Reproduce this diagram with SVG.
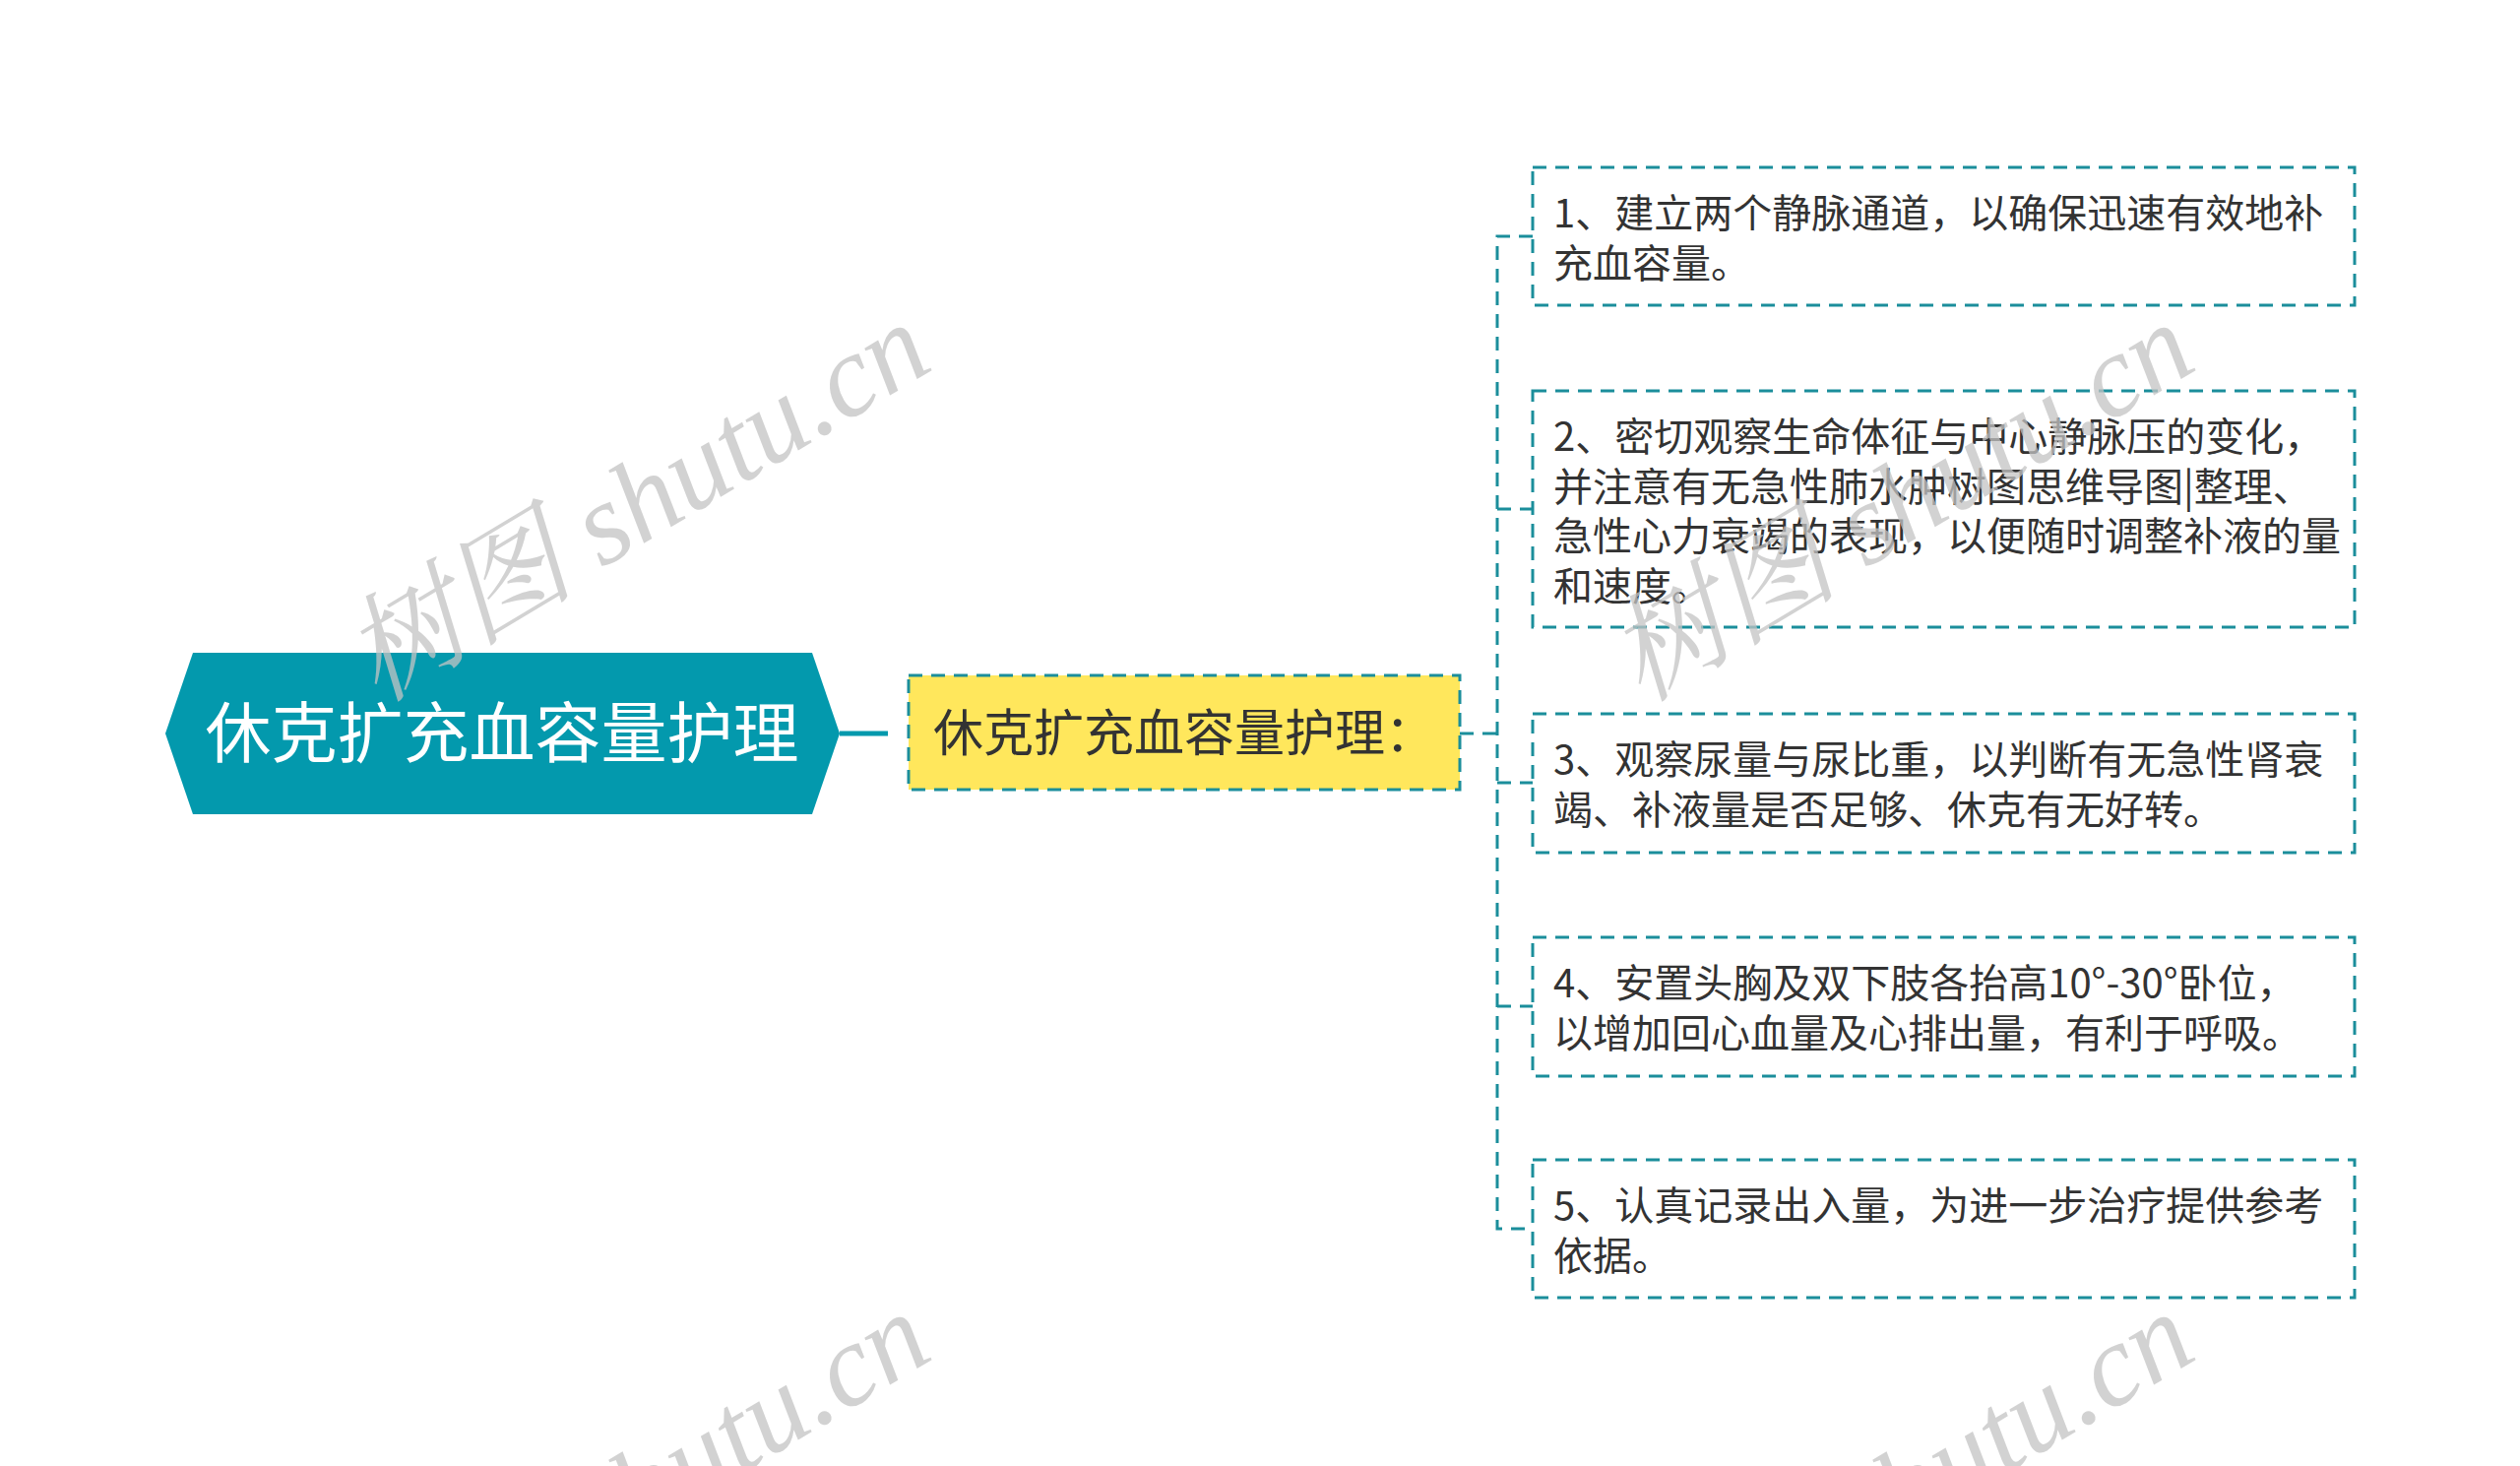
<svg xmlns="http://www.w3.org/2000/svg" width="2560" height="1489" viewBox="0 0 2560 1489">
<defs>
<style>
.dash{stroke:#1b8e9b;stroke-width:3;stroke-dasharray:14 9;fill:none}
.box{fill:#ffffff;stroke:#1b8e9b;stroke-width:3;stroke-dasharray:14 9}
.txt{font-family:"Noto Sans CJK SC","Noto Sans",sans-serif;font-size:40px;fill:#333333}
.wm{font-family:"Liberation Serif","Noto Serif CJK SC","Noto Sans CJK SC",serif;font-style:italic;font-size:118px;fill:#c4c4c4;opacity:0.75}
</style>
</defs>
<rect width="2560" height="1489" fill="#ffffff"/>
<g id="connectors">
<line x1="853" y1="745" x2="902" y2="745" stroke="#0399ad" stroke-width="5"/>
<path class="dash" d="M1483 745 H1521"/>
<path class="dash" d="M1557 240 H1521 V1248 H1557"/>
<path class="dash" d="M1521 517 H1557"/>
<path class="dash" d="M1521 795 H1557"/>
<path class="dash" d="M1521 1022 H1557"/>
</g>
<g id="root">
<polygon points="168,745 196,663 825,663 853,745 825,827 196,827" fill="#0399ad"/>
<text x="510" y="769" text-anchor="middle" font-family="Noto Sans CJK SC, Noto Sans, sans-serif" font-size="67" fill="#ffffff">休克扩充血容量护理</text>
</g>
<g id="main">
<rect x="923" y="686" width="560" height="116" fill="#ffe75c" stroke="#1b8e9b" stroke-width="3" stroke-dasharray="14 9"/>
<text x="948" y="763" font-family="Noto Sans CJK SC, Noto Sans, sans-serif" font-size="51" fill="#333333">休克扩充血容量护理：</text>
</g>
<g id="item1">
<rect class="box" x="1557" y="170" width="835" height="140"/>
<text class="txt" x="1578" y="231">1、建立两个静脉通道，以确保迅速有效地补</text>
<text class="txt" x="1578" y="282">充血容量。</text>
</g>
<g id="item2">
<rect class="box" x="1557" y="397" width="835" height="240"/>
<text class="txt" x="1578" y="458">2、密切观察生命体征与中心静脉压的变化，</text>
<text class="txt" x="1578" y="509">并注意有无急性肺水肿树图思维导图|整理、</text>
<text class="txt" x="1578" y="559">急性心力衰竭的表现，以便随时调整补液的量</text>
<text class="txt" x="1578" y="610">和速度。</text>
</g>
<g id="item3">
<rect class="box" x="1557" y="725" width="835" height="141"/>
<text class="txt" x="1578" y="786">3、观察尿量与尿比重，以判断有无急性肾衰</text>
<text class="txt" x="1578" y="837">竭、补液量是否足够、休克有无好转。</text>
</g>
<g id="item4">
<rect class="box" x="1557" y="952" width="835" height="141"/>
<text class="txt" x="1578" y="1013">4、安置头胸及双下肢各抬高10°-30°卧位，</text>
<text class="txt" x="1578" y="1064">以增加回心血量及心排出量，有利于呼吸。</text>
</g>
<g id="item5">
<rect class="box" x="1557" y="1178" width="835" height="140"/>
<text class="txt" x="1578" y="1239">5、认真记录出入量，为进一步治疗提供参考</text>
<text class="txt" x="1578" y="1290">依据。</text>
</g>
<g id="watermarks">
<text class="wm" x="647" y="510" text-anchor="middle" dominant-baseline="central" transform="rotate(-31 647 510)">树图 shutu.cn</text>
<text class="wm" x="1931" y="510" text-anchor="middle" dominant-baseline="central" transform="rotate(-31 1931 510)">树图 shutu.cn</text>
<text class="wm" x="647" y="1515" text-anchor="middle" dominant-baseline="central" transform="rotate(-31 647 1515)">树图 shutu.cn</text>
<text class="wm" x="1931" y="1515" text-anchor="middle" dominant-baseline="central" transform="rotate(-31 1931 1515)">树图 shutu.cn</text>
</g>
</svg>
